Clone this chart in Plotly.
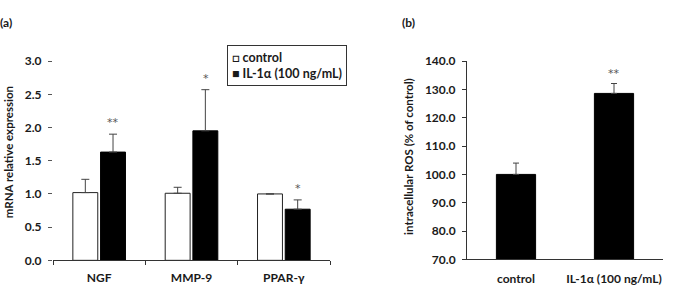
import plotly.graph_objects as go

# ---- data ----
genes = ["NGF", "MMP-9", "PPAR-γ"]
control_a = [1.02, 1.01, 1.00]
control_a_err = [0.20, 0.09, None]
il_a = [1.63, 1.95, 0.77]
il_a_err = [0.27, 0.62, 0.14]
sig_a = ["**", "*", "*"]

groups_b = ["control", "IL-1α (100 ng/mL)"]
ros = [100.0, 128.6]
ros_err = [4.0, 3.5]
sig_b = ["", "**"]

FONT = "Lato"
TXT = "#1a1a1a"

fig = go.Figure()

fig.add_trace(go.Bar(
    x=genes, y=control_a, name="control", xaxis="x", yaxis="y",
    marker=dict(color="white", line=dict(color="#222", width=1)),
    error_y=dict(type="data", symmetric=False, array=control_a_err,
                 arrayminus=[0] * 3, color="#444", thickness=1, width=4),
))
fig.add_trace(go.Bar(
    x=genes, y=il_a, name="IL-1α (100 ng/mL)", xaxis="x", yaxis="y",
    marker=dict(color="black", line=dict(color="black", width=1)),
    error_y=dict(type="data", symmetric=False, array=il_a_err,
                 arrayminus=[0] * 3, color="#444", thickness=1, width=4),
))
fig.add_trace(go.Bar(
    x=groups_b, y=ros, xaxis="x2", yaxis="y2", showlegend=False, width=0.4,
    marker=dict(color="black", line=dict(color="black", width=1)),
    error_y=dict(type="data", symmetric=False, array=ros_err,
                 arrayminus=[0] * 2, color="#444", thickness=1, width=3),
))

star_font = dict(family="DejaVu Sans", size=11, color="#555")
annotations = []
for g, v, e, s in zip(genes, il_a, il_a_err, sig_a):
    annotations.append(dict(x=g, y=v + e, xref="x", yref="y", text=s,
                            showarrow=False, yanchor="bottom", xshift=14, yshift=3,
                            font=star_font))
for g, v, e, s in zip(groups_b, ros, ros_err, sig_b):
    if s:
        annotations.append(dict(x=g, y=v + e, xref="x2", yref="y2", text=s,
                                showarrow=False, yanchor="bottom", yshift=2,
                                font=star_font))

bold = dict(family=FONT, size=12, color=TXT, weight="bold")

annotations += [
    dict(x=0, y=1 - 15 / 292, xref="paper", yref="paper", text="(a)",
         showarrow=False, xanchor="left", yanchor="middle", xshift=-2,
         font=bold),
    dict(x=400 / 674, y=1 - 15 / 292, xref="paper", yref="paper", text="(b)",
         showarrow=False, xanchor="left", yanchor="middle",
         font=bold),
    dict(x=8 / 674, y=1 - 152 / 292, xref="paper", yref="paper",
         text="mRNA relative expression", textangle=-90,
         showarrow=False, xanchor="center", yanchor="middle",
         font=dict(family=FONT, size=11.5, color=TXT, weight="bold")),
    dict(x=409 / 674, y=1 - 157 / 292, xref="paper", yref="paper",
         text="intracellular ROS (% of control)", textangle=-90,
         showarrow=False, xanchor="center", yanchor="middle",
         font=dict(family=FONT, size=11.5, color=TXT, weight="bold")),
    dict(x=227 / 674, y=1 - 39 / 292, xref="paper", yref="paper",
         text="□ control<br>■ IL-1α (100 ng/mL)",
         showarrow=False, xanchor="left", yanchor="top", align="left",
         bordercolor="#333", borderwidth=1, borderpad=4, bgcolor="white",
         font=dict(family=FONT, size=12.5, color=TXT, weight="bold")),
]

fig.update_layout(
    width=674, height=292,
    margin=dict(l=0, r=0, t=0, b=0),
    paper_bgcolor="white", plot_bgcolor="white",
    showlegend=False,
    barmode="group", bargap=0.4, bargroupgap=0.1,
    font=dict(family=FONT, size=11, color=TXT),
    xaxis=dict(domain=[53 / 674, 330 / 674], anchor="y", type="category",
               showline=True, linecolor="#333", linewidth=1,
               ticks="outside", ticklen=4, tickcolor="#333", tickson="boundaries",
               tickfont=bold, ticklabelstandoff=6,
               showgrid=False, zeroline=False),
    yaxis=dict(domain=[26 / 292, 236 / 292], anchor="x", range=[0, 3.0],
               dtick=0.5, tickformat=".1f", showline=False,
               ticks="outside", ticklen=4, tickcolor="#555",
               tickfont=bold, ticklabelstandoff=4,
               showgrid=False, zeroline=False),
    xaxis2=dict(domain=[467 / 674, 663 / 674], anchor="y2", type="category",
                showline=True, linecolor="#333", linewidth=1, ticks="",
                tickfont=bold, ticklabelstandoff=8,
                showgrid=False, zeroline=False),
    yaxis2=dict(domain=[27 / 292, 236 / 292], anchor="x2", range=[70, 140],
                dtick=10, tickformat=".1f", showline=True, linecolor="#333",
                ticks="outside", ticklen=4, tickcolor="#333",
                tickfont=bold, ticklabelstandoff=4,
                showgrid=False, zeroline=False),
    annotations=annotations,
)

fig.write_html("out.html")
